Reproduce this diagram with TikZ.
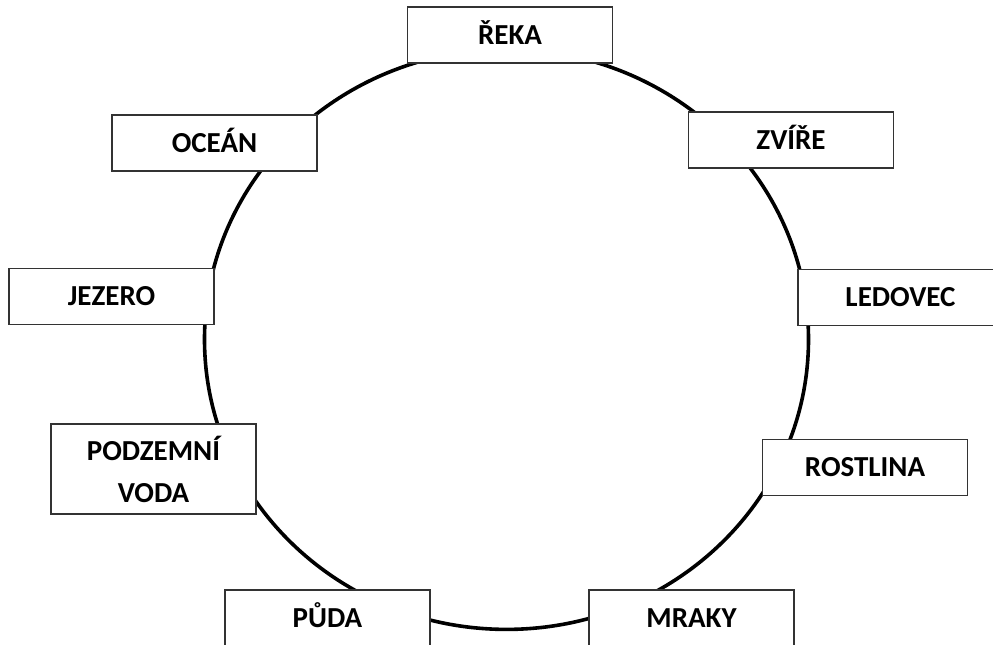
\documentclass[tikz,border=0pt]{standalone}
\usepackage{fontspec}
\setmainfont{Carlito}
\usetikzlibrary{positioning}

\begin{document}
\begin{tikzpicture}[
    x=1pt, y=1pt,
    cyklus/.style={line width=3.6pt, black},
    box/.style={rectangle, draw=black!80, line width=1.3pt, fill=white, minimum width=205pt, minimum height=56pt, font=\bfseries\fontsize{29}{42}\selectfont, inner sep=0pt, text height=18.5pt, text depth=0pt},
    box2/.style={box, minimum height=90pt, align=center, text height=, text depth=}
]
\useasboundingbox (0,0) rectangle (993,645);
\clip (0,0) rectangle (993,645);

% the cycle
\draw [cyklus] (506.5,305.6) ellipse [x radius=302, y radius=290];

\node [box] (reka) at (510,610) {ŘEKA};
\node [box] (ocean) at (214.5,502) {OCEÁN};
\node [box] (zvire) at (791,505) {ZVÍŘE};
\node [box] (jezero) at (111.5,348.5) {JEZERO};
\node [box] (ledovec) at (900.5,347.5) {LEDOVEC};
\node [box2] (podzemni) at (153.5,176) {PODZEMNÍ\\VODA};
\node [box] (rostlina) at (865,177.5) {ROSTLINA};
\node [box] (puda) at (327.5,27) {PŮDA};
\node [box] (mraky) at (691.5,27) {MRAKY};

\end{tikzpicture}
\end{document}
